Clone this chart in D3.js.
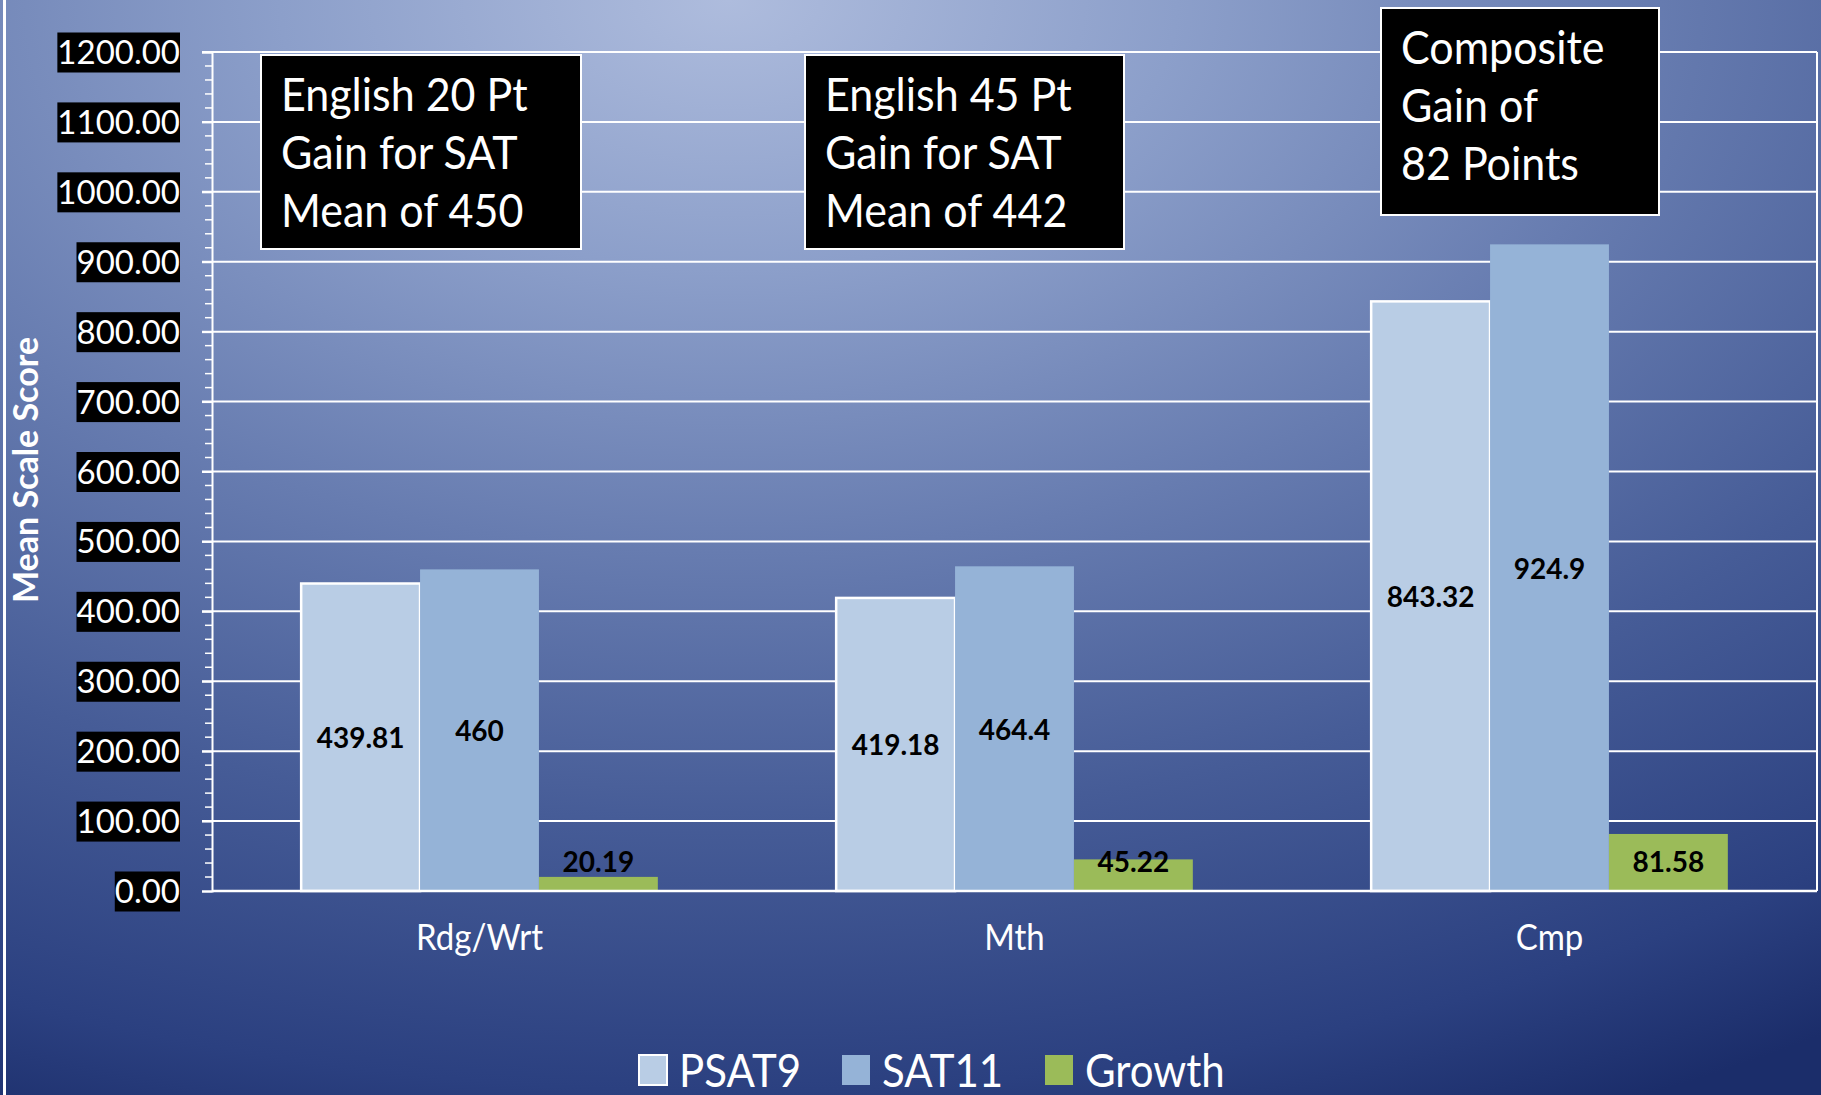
<!DOCTYPE html>
<html><head><meta charset="utf-8">
<script src="https://cdn.jsdelivr.net/npm/d3@7"></script>
<style>
html,body{margin:0;padding:0;background:#1b2d6a;overflow:hidden}
svg{display:block;font-family:Lato,"Open Sans",sans-serif}
</style></head>
<body>
<svg id="chart" width="1821" height="1095"></svg>
<script>
// ---- data ----
const categories = ["Rdg/Wrt", "Mth", "Cmp"];
const seriesNames = ["PSAT9", "SAT11", "Growth"];
const psat9 = [439.81, 419.18, 843.32];
const sat11 = [460, 464.4, 924.9];
const growth = [20.19, 45.22, 81.58];
const yTicks = [0, 100, 200, 300, 400, 500, 600, 700, 800, 900, 1000, 1100, 1200];
const yMinorTicks = d3.range(0, 1201, 20);
const yTitle = "Mean Scale Score";
const notes = [
  ["English 20 Pt", "Gain for SAT", "Mean of 450"],
  ["English 45 Pt", "Gain for SAT", "Mean of 442"],
  ["Composite", "Gain of", "82 Points"]
];

// ---- styles / layout ----
const W = 1821, H = 1095;
const colors = {PSAT9: "#b9cde5", SAT11: "#95b3d7", Growth: "#9bbb59"};
const plot = {left: 212, right: 1817, top: 52, bottom: 891};
const noteBoxes = [
  {x: 261, y: 55, w: 320, h: 194},
  {x: 805, y: 55, w: 319, h: 194},
  {x: 1381, y: 8, w: 278, h: 207}
];

const svg = d3.select("#chart");
const defs = svg.append("defs");
const grad = defs.append("radialGradient").attr("id", "bg")
  .attr("cx", 0.4).attr("cy", 0).attr("r", 1.12).attr("fx", 0.4).attr("fy", 0);
[[0, "#aebcdd"], [0.22, "#8c9fca"], [0.45, "#677cb0"], [0.67, "#465c97"], [0.89, "#2b4080"], [1, "#1b2d6a"]]
  .forEach(([o, c]) => grad.append("stop").attr("offset", o).attr("stop-color", c));
svg.append("rect").attr("width", W).attr("height", H).attr("fill", "url(#bg)");
svg.append("rect").attr("x", 3).attr("y", 0).attr("width", 3).attr("height", H).attr("fill", "#fff");

// scales
const y = d3.scaleLinear().domain([0, 1200]).range([plot.bottom, plot.top]);
const x0 = d3.scaleBand().domain(categories).range([plot.left, plot.right]).paddingInner(0).paddingOuter(0);
const x1 = d3.scaleBand().domain(seriesNames).range([0, x0.bandwidth()]).paddingInner(0).paddingOuter(0.75);

// gridlines
svg.append("g").selectAll("line").data(yTicks.filter(d => d > 0)).join("line")
  .attr("x1", plot.left - 10).attr("x2", plot.right)
  .attr("y1", d => y(d)).attr("y2", d => y(d))
  .attr("stroke", "#fff").attr("stroke-width", 2);
// right border
svg.append("line").attr("x1", plot.right).attr("x2", plot.right)
  .attr("y1", plot.top).attr("y2", plot.bottom).attr("stroke", "#fff").attr("stroke-width", 2);

// minor ticks
svg.append("g").selectAll("line").data(yMinorTicks.filter(d => d % 100 !== 0)).join("line")
  .attr("x1", plot.left - 7).attr("x2", plot.left)
  .attr("y1", d => y(d)).attr("y2", d => y(d))
  .attr("stroke", "#fff").attr("stroke-width", 1.5);

// y axis
const yAxis = svg.append("g").attr("transform", `translate(${plot.left},0)`)
  .call(d3.axisLeft(y).tickValues(yTicks).tickSize(10).tickPadding(22).tickFormat(d => d.toFixed(2)));
yAxis.select(".domain").attr("stroke", "#fff").attr("stroke-width", 2);
yAxis.selectAll(".tick line").attr("stroke", "#fff").attr("stroke-width", 2);
yAxis.selectAll(".tick text").attr("fill", "#fff").attr("font-size", 33)
  .attr("font-family", "Lato, sans-serif").attr("dy", "0.35em");
yAxis.selectAll(".tick").each(function () {
  const t = d3.select(this).select("text");
  const bb = t.node().getBBox();
  d3.select(this).insert("rect", "text")
    .attr("x", bb.x).attr("y", -20).attr("width", bb.width).attr("height", 40).attr("fill", "#000");
});

// bars
const rows = categories.map((c, i) => ({cat: c, vals: [
  {s: "PSAT9", v: psat9[i]}, {s: "SAT11", v: sat11[i]}, {s: "Growth", v: growth[i]}]}));
const groups = svg.append("g").selectAll("g").data(rows).join("g")
  .attr("transform", d => `translate(${x0(d.cat)},0)`);
groups.selectAll("rect").data(d => d.vals).join("rect")
  .attr("x", d => x1(d.s)).attr("width", x1.bandwidth())
  .attr("y", d => y(d.v)).attr("height", d => y(0) - y(d.v))
  .attr("fill", d => colors[d.s])
  .attr("stroke", d => d.s === "PSAT9" ? "#fff" : "none").attr("stroke-width", 2.5);
groups.selectAll("text").data(d => d.vals).join("text")
  .attr("x", d => x1(d.s) + x1.bandwidth() / 2)
  .attr("y", d => Math.min(y(d.v / 2), y(0) - 30))
  .attr("text-anchor", "middle").attr("dominant-baseline", "central")
  .attr("font-size", 28).attr("font-weight", "bold").attr("fill", "#000")
  .text(d => String(d.v));

// baseline
svg.append("line").attr("x1", plot.left).attr("x2", plot.right)
  .attr("y1", y(0)).attr("y2", y(0)).attr("stroke", "#fff").attr("stroke-width", 2.5);

// x axis labels
svg.append("g").selectAll("text").data(categories).join("text")
  .attr("transform", d => `translate(${x0(d) + x0.bandwidth() / 2},950) scale(1,1.1)`)
  .attr("text-anchor", "middle").attr("font-size", 33).attr("fill", "#fff").text(d => d);

// y title
svg.append("text").attr("transform", "translate(38,470) rotate(-90)")
  .attr("text-anchor", "middle").attr("font-size", 34).attr("font-weight", "bold")
  .attr("fill", "#fff").text(yTitle);

// notes
noteBoxes.forEach((b, i) => {
  const g = svg.append("g").attr("transform", `translate(${b.x},${b.y})`);
  g.append("rect").attr("width", b.w).attr("height", b.h).attr("fill", "#000")
    .attr("stroke", "#fff").attr("stroke-width", 2);
  g.selectAll("text").data(notes[i]).join("text")
    .attr("transform", (d, j) => `translate(20,${38 + j * 58}) scale(1,1.08)`)
    .attr("dominant-baseline", "central")
    .attr("font-size", 43).attr("fill", "#fff").text(d => d);
});

// legend
const legendX = [639, 842, 1045];
const lg = svg.append("g").selectAll("g").data(seriesNames).join("g")
  .attr("transform", (d, i) => `translate(${legendX[i]},1055)`);
lg.append("rect").attr("width", 28).attr("height", 30)
  .attr("fill", d => colors[d]).attr("stroke", d => d === "PSAT9" ? "#fff" : "none").attr("stroke-width", 2);
lg.append("text").attr("transform", "translate(40,32) scale(1,1.1)")
  .attr("font-size", 42).attr("fill", "#fff").text(d => d);
</script>
</body></html>
